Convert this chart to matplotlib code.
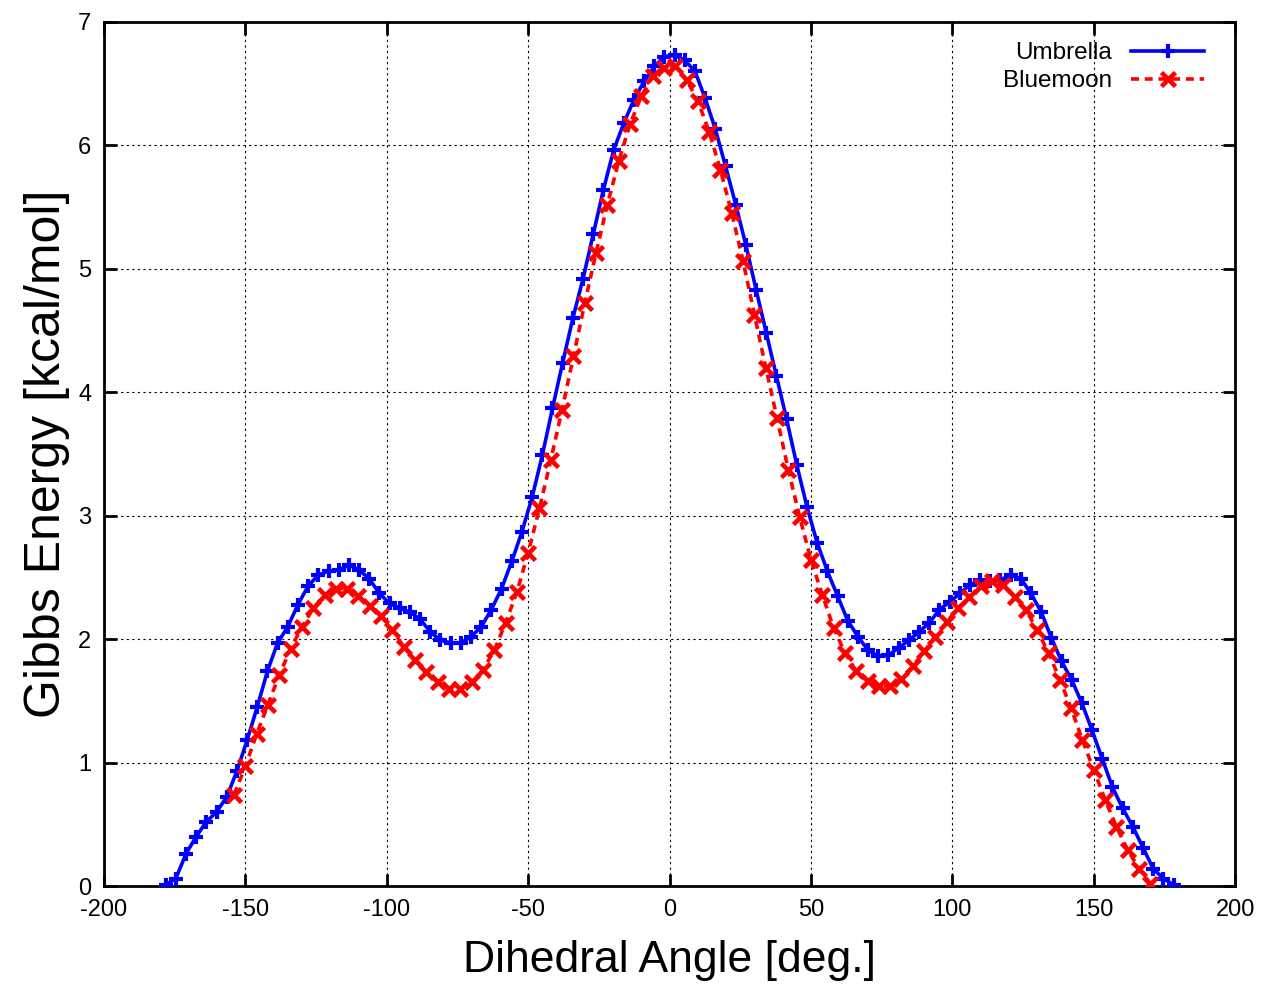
import numpy as np
import matplotlib
matplotlib.use('Agg')
import matplotlib.pyplot as plt

# Umbrella sampling profile (100 windows, -178.2 .. 178.2 deg)
umbrella_angle = np.linspace(-178.2, 178.2, 100)
umbrella_energy = [
    0.01, 0.06, 0.26, 0.40, 0.52, 0.60, 0.72, 0.93, 1.18, 1.45,
    1.74, 1.97, 2.10, 2.28, 2.43, 2.52, 2.55, 2.56, 2.60, 2.56,
    2.49, 2.37, 2.29, 2.25, 2.22, 2.16, 2.06, 1.99, 1.97, 1.97,
    2.02, 2.10, 2.24, 2.41, 2.63, 2.87, 3.15, 3.49, 3.87, 4.24,
    4.60, 4.92, 5.28, 5.64, 5.96, 6.18, 6.37, 6.52, 6.64, 6.72,
    6.73, 6.69, 6.60, 6.38, 6.13, 5.83, 5.52, 5.19, 4.83, 4.48,
    4.13, 3.78, 3.41, 3.07, 2.78, 2.55, 2.35, 2.15, 2.02, 1.91,
    1.86, 1.87, 1.93, 1.99, 2.06, 2.13, 2.24, 2.30, 2.37, 2.44,
    2.48, 2.47, 2.48, 2.52, 2.49, 2.37, 2.22, 2.01, 1.82, 1.67,
    1.48, 1.26, 1.03, 0.80, 0.63, 0.48, 0.31, 0.14, 0.06, 0.01,
]

# Blue moon constrained runs (-154 .. 170 deg, every 4 deg)
bluemoon_angle = np.arange(-154, 171, 4)
bluemoon_energy = [
    0.74, 0.97, 1.23, 1.47, 1.71, 1.92, 2.10, 2.25, 2.36, 2.41,
    2.41, 2.35, 2.27, 2.19, 2.07, 1.94, 1.83, 1.73, 1.65, 1.60,
    1.60, 1.65, 1.75, 1.91, 2.13, 2.38, 2.70, 3.06, 3.45, 3.86,
    4.29, 4.72, 5.13, 5.52, 5.87, 6.17, 6.40, 6.56, 6.63, 6.64,
    6.53, 6.36, 6.11, 5.80, 5.45, 5.06, 4.63, 4.20, 3.79, 3.37,
    2.99, 2.64, 2.36, 2.09, 1.89, 1.74, 1.66, 1.62, 1.62, 1.68,
    1.78, 1.90, 2.02, 2.14, 2.25, 2.34, 2.43, 2.47, 2.44, 2.34,
    2.24, 2.07, 1.89, 1.67, 1.44, 1.18, 0.94, 0.70, 0.48, 0.29,
    0.14, 0.02,
]

x_ticks = np.arange(-200, 201, 50)
y_ticks = np.arange(0, 8, 1)

plt.rcParams['font.family'] = ['Liberation Sans', 'DejaVu Sans']
plt.rcParams['axes.unicode_minus'] = False

fig, ax = plt.subplots(figsize=(12.63, 9.85), dpi=100)
fig.subplots_adjust(left=0.0823, right=0.978, bottom=0.1005, top=0.9777)

ax.plot(umbrella_angle, umbrella_energy, color='#0000ff', lw=2.6,
        marker='+', ms=10.5, mew=3.0, label='Umbrella', zorder=3)
ax.plot(bluemoon_angle, bluemoon_energy, color='#ff0000', lw=2.6,
        ls=(0, (2.2, 1.6)), marker='x', ms=10.5, mew=3.3,
        label='Bluemoon', zorder=4)

ax.set_xlim(-200, 200)
ax.set_ylim(0, 7)
ax.set_xticks(x_ticks)
ax.set_yticks(y_ticks)
ax.grid(True, color='black', lw=0.8, ls=(0, (2, 3)))
ax.set_axisbelow(True)

ax.tick_params(direction='in', length=9, width=2, top=True, right=True,
               labelsize=17, pad=9)
for sp in ax.spines.values():
    sp.set_linewidth(2)

ax.set_xlabel('Dihedral Angle [deg.]', fontsize=32, labelpad=14)
ax.set_ylabel('Gibbs Energy [kcal/mol]', fontsize=36, labelpad=6)

ax.legend(loc='upper right', bbox_to_anchor=(0.981, 0.988), frameon=False,
          markerfirst=False, numpoints=1, fontsize=17.5, handlelength=3.0,
          handletextpad=0.8, labelspacing=0.25, borderaxespad=0.0)

fig.savefig('out.png', dpi=100)
